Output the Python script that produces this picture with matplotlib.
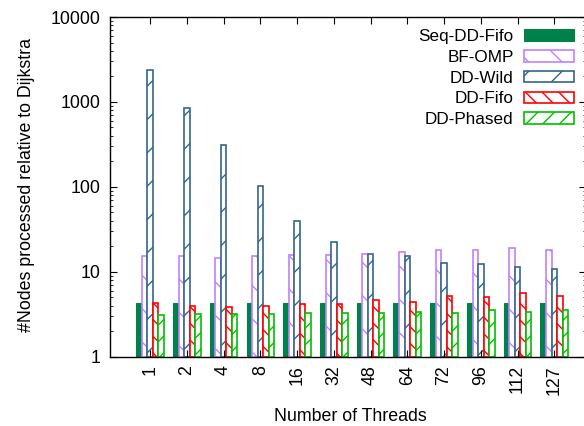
import numpy as np
import matplotlib
matplotlib.use("Agg")
from matplotlib import pyplot as plt

threads = ["1", "2", "4", "8", "16", "32", "48", "64", "72", "96", "112", "127"]

seq_dd_fifo = [4.32, 4.32, 4.32, 4.32, 4.32, 4.32, 4.32, 4.32, 4.32, 4.32, 4.32, 4.32]
bf_omp = [15.3, 15.3, 14.4, 15.3, 15.9, 15.7, 16.4, 17.0, 18.1, 18.1, 18.9, 18.1]
dd_wild = [2360, 850, 310, 103, 39.5, 22.2, 16.2, 15.4, 12.6, 12.3, 11.5, 10.9]
dd_fifo = [4.25, 3.92, 3.84, 3.98, 4.17, 4.2, 4.61, 4.36, 5.18, 5.04, 5.57, 5.18]
dd_phased = [3.12, 3.18, 3.18, 3.18, 3.27, 3.24, 3.24, 3.36, 3.29, 3.51, 3.33, 3.57]

series = [
    ("Seq-DD-Fifo", seq_dd_fifo, "#00804a", ""),
    ("BF-OMP", bf_omp, "#c080ff", "\\"),
    ("DD-Wild", dd_wild, "#336688", "/"),
    ("DD-Fifo", dd_fifo, "#ff0000", "\\\\"),
    ("DD-Phased", dd_phased, "#00c000", "//"),
]


def main():
    plt.rcParams["font.family"] = ["Liberation Sans", "DejaVu Sans"]
    plt.rcParams["font.size"] = 12.8
    plt.rcParams["hatch.linewidth"] = 1.0

    fig = plt.figure(figsize=(5.84, 4.26), dpi=100)
    # right spine sits just past the image edge, as in the reference
    ax = fig.add_axes([110 / 584, 69.3 / 426, 475.5 / 584, 339.7 / 426])

    x = np.arange(len(threads))
    w = 0.15
    for i, (name, vals, color, hatch) in enumerate(series):
        off = (i - 2) * w
        h = np.array(vals) - 1
        if hatch:
            ax.bar(x + off, h, w, bottom=1, label=name, facecolor="white",
                   edgecolor=color, hatch=hatch, linewidth=1.2)
        else:
            ax.bar(x + off, h, w, bottom=1, label=name, facecolor=color,
                   edgecolor=color, linewidth=0.8)

    ax.set_yscale("log")
    ax.set_ylim(1, 10000)
    ax.set_xlim(-1.09, 11.85)
    ax.set_yticks([1, 10, 100, 1000, 10000])
    ax.set_yticklabels(["1", "10", "100", "1000", "10000"])
    ax.set_xticks(x)
    ax.set_xticklabels(threads, rotation=90)

    ax.tick_params(axis="both", which="major", direction="in", length=5,
                   top=True, right=True, width=0.8)
    ax.tick_params(axis="y", which="minor", direction="in", length=2.5,
                   right=True, width=0.6)
    ax.tick_params(axis="x", which="major", pad=6)
    ax.tick_params(axis="y", which="major", pad=7)

    for s in ax.spines.values():
        s.set_linewidth(1.0)

    ax.set_xlabel("Number of Threads")
    ax.xaxis.set_label_coords((350 - 110) / 475.5, -0.152)
    ax.set_ylabel("#Nodes processed relative to Dijkstra")
    ax.yaxis.set_label_coords(-0.158, 0.505)

    ax.legend(loc="upper right", markerfirst=False, frameon=False,
              handlelength=2.9, handleheight=0.66, labelspacing=0.34,
              handletextpad=0.6, borderaxespad=0.3, fontsize=12.3)

    fig.savefig("out.png", dpi=100)


if __name__ == "__main__":
    main()
